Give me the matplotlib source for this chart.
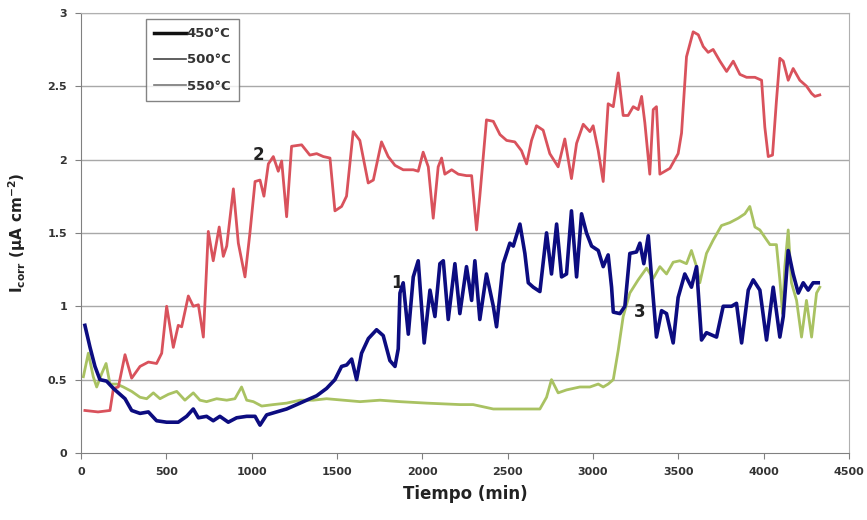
# -*- coding: utf-8 -*-
# Icorr vs time for the three treatment temperatures

import matplotlib
matplotlib.use('Agg')
import matplotlib.pyplot as plt
from matplotlib.lines import Line2D

# 450 C series (time in min, Icorr in uA/cm2)
t_450 = [23, 53, 82, 111, 150, 190, 219, 258, 297, 346, 395, 443, 502, 570, 619, 658, 688,
         736, 775, 814, 863, 912, 971, 1020, 1049, 1088, 1146, 1205, 1264, 1322, 1381, 1439,
         1488, 1527, 1557, 1586, 1615, 1644, 1684, 1732, 1771, 1810, 1840, 1859, 1869, 1888,
         1918, 1947, 1976, 2011, 2045, 2074, 2103, 2123, 2152, 2191, 2220, 2259, 2289, 2308,
         2337, 2376, 2416, 2435, 2474, 2513, 2533, 2572, 2601, 2621, 2650, 2689, 2728, 2757,
         2787, 2816, 2845, 2874, 2904, 2933, 2962, 2992, 3031, 3060, 3089, 3109, 3119, 3158,
         3187, 3216, 3255, 3275, 3298, 3324, 3343, 3372, 3402, 3431, 3470, 3499, 3538, 3577,
         3607, 3636, 3665, 3724, 3763, 3812, 3841, 3871, 3910, 3939, 3978, 4017, 4056, 4095,
         4115, 4144, 4173, 4203, 4232, 4261, 4290, 4320]
i_450 = [0.87, 0.72, 0.59, 0.50, 0.49, 0.44, 0.41, 0.37, 0.29, 0.27, 0.28, 0.22, 0.21, 0.21,
         0.25, 0.30, 0.24, 0.25, 0.22, 0.25, 0.21, 0.24, 0.25, 0.25, 0.19, 0.26, 0.28, 0.30,
         0.33, 0.36, 0.39, 0.44, 0.50, 0.59, 0.60, 0.64, 0.50, 0.68, 0.78, 0.84, 0.80, 0.63,
         0.59, 0.71, 1.09, 1.16, 0.81, 1.20, 1.31, 0.75, 1.11, 0.93, 1.29, 1.31, 0.91, 1.29,
         0.95, 1.27, 1.04, 1.31, 0.91, 1.22, 1.00, 0.86, 1.29, 1.43, 1.41, 1.56, 1.36, 1.16,
         1.13, 1.10, 1.50, 1.22, 1.56, 1.20, 1.22, 1.65, 1.20, 1.63, 1.50, 1.41, 1.38, 1.27,
         1.35, 1.13, 0.96, 0.95, 1.00, 1.36, 1.37, 1.43, 1.29, 1.48, 1.20, 0.79, 0.97, 0.95,
         0.75, 1.06, 1.22, 1.13, 1.27, 0.77, 0.82, 0.79, 1.00, 1.00, 1.02, 0.75, 1.11, 1.18,
         1.11, 0.77, 1.13, 0.79, 0.93, 1.38, 1.22, 1.09, 1.16, 1.11, 1.16, 1.16]

# 500 C series
t_500 = [23, 100, 170, 190, 219, 258, 297, 346, 395, 443, 473, 502, 541, 570, 590, 629, 658,
         688, 717, 746, 775, 810, 834, 854, 893, 922, 961, 990, 1020, 1049, 1072, 1098, 1127,
         1156, 1176, 1205, 1234, 1293, 1341, 1381, 1420, 1459, 1488, 1527, 1556, 1595, 1634,
         1683, 1713, 1761, 1800, 1840, 1888, 1947, 1976, 2005, 2035, 2064, 2093, 2113, 2132,
         2172, 2211, 2259, 2289, 2318, 2337, 2376, 2416, 2455, 2494, 2542, 2581, 2611, 2640,
         2669, 2708, 2747, 2796, 2835, 2874, 2904, 2943, 2982, 3001, 3031, 3060, 3089, 3119,
         3148, 3177, 3206, 3236, 3265, 3285, 3304, 3333, 3353, 3372, 3392, 3451, 3499, 3519,
         3548, 3587, 3617, 3646, 3675, 3704, 3744, 3783, 3822, 3861, 3900, 3949, 3988, 4007,
         4027, 4052, 4075, 4095, 4115, 4144, 4173, 4212, 4251, 4281, 4300, 4329]
i_500 = [0.29, 0.28, 0.29, 0.44, 0.45, 0.67, 0.51, 0.59, 0.62, 0.61, 0.68, 1.00, 0.72, 0.87,
         0.86, 1.07, 1.00, 1.01, 0.79, 1.51, 1.31, 1.54, 1.34, 1.41, 1.80, 1.43, 1.20, 1.50,
         1.85, 1.86, 1.75, 1.97, 2.02, 1.92, 1.99, 1.61, 2.09, 2.10, 2.03, 2.04, 2.02, 2.01,
         1.65, 1.68, 1.75, 2.19, 2.13, 1.84, 1.86, 2.12, 2.02, 1.96, 1.93, 1.93, 1.92, 2.05,
         1.95, 1.60, 1.95, 2.01, 1.90, 1.93, 1.90, 1.89, 1.89, 1.52, 1.75, 2.27, 2.26, 2.17,
         2.13, 2.12, 2.06, 1.97, 2.13, 2.23, 2.20, 2.04, 1.95, 2.14, 1.87, 2.11, 2.24, 2.19,
         2.23, 2.06, 1.85, 2.38, 2.36, 2.59, 2.30, 2.30, 2.36, 2.34, 2.43, 2.25, 1.90, 2.34,
         2.36, 1.90, 1.94, 2.04, 2.18, 2.70, 2.87, 2.85, 2.77, 2.73, 2.75, 2.67, 2.60, 2.67,
         2.58, 2.56, 2.56, 2.54, 2.22, 2.02, 2.03, 2.40, 2.69, 2.67, 2.54, 2.62, 2.54, 2.50,
         2.45, 2.43, 2.44]

# 550 C series
t_550 = [14, 43, 72, 92, 121, 147, 170, 209, 248, 297, 346, 385, 424, 463, 512, 561, 609,
         658, 697, 736, 795, 854, 902, 941, 971, 1010, 1059, 1127, 1205, 1283, 1361, 1439,
         1537, 1635, 1752, 1869, 2025, 2221, 2298, 2416, 2552, 2689, 2728, 2757, 2796, 2845,
         2923, 2982, 3031, 3060, 3089, 3119, 3148, 3177, 3216, 3265, 3314, 3353, 3392, 3431,
         3470, 3509, 3548, 3577, 3607, 3626, 3665, 3704, 3753, 3802, 3851, 3890, 3919, 3949,
         3978, 4007, 4037, 4075, 4095, 4111, 4124, 4144, 4163, 4193, 4222, 4251, 4281, 4310,
         4329]
i_550 = [0.52, 0.68, 0.52, 0.45, 0.54, 0.61, 0.47, 0.47, 0.45, 0.42, 0.38, 0.37, 0.41, 0.37,
         0.40, 0.42, 0.36, 0.41, 0.36, 0.35, 0.37, 0.36, 0.37, 0.45, 0.36, 0.35, 0.32, 0.33,
         0.34, 0.36, 0.36, 0.37, 0.36, 0.35, 0.36, 0.35, 0.34, 0.33, 0.33, 0.30, 0.30, 0.30,
         0.38, 0.50, 0.41, 0.43, 0.45, 0.45, 0.47, 0.45, 0.47, 0.50, 0.70, 0.93, 1.09, 1.18,
         1.26, 1.19, 1.27, 1.22, 1.30, 1.31, 1.29, 1.38, 1.27, 1.16, 1.36, 1.45, 1.55, 1.57,
         1.60, 1.63, 1.68, 1.54, 1.52, 1.47, 1.42, 1.42, 1.18, 0.95, 1.27, 1.52, 1.16, 1.04,
         0.79, 1.04, 0.79, 1.09, 1.13]

series_names = ['450°C', '500°C', '550°C']
line_colors = ['#0c0c80', '#d9525c', '#a9c262']

x_ticks = [0, 500, 1000, 1500, 2000, 2500, 3000, 3500, 4000, 4500]
y_ticks = [0, 0.5, 1, 1.5, 2, 2.5, 3]

fig = plt.figure(figsize=(8.67, 5.2), dpi=100)
ax = fig.add_axes([0.0934, 0.1288, 0.8858, 0.8467])

for v in y_ticks[1:]:
    ax.axhline(v, color='#a8a8a8', linewidth=1.0, zorder=0)

ax.plot(t_550, i_550, color=line_colors[2], linewidth=2.0, zorder=2)
ax.plot(t_500, i_500, color=line_colors[1], linewidth=2.0, zorder=3)
ax.plot(t_450, i_450, color=line_colors[0], linewidth=2.6, zorder=4)

# curve numbers
ax.text(1037, 2.03, '2', fontsize=12, fontweight='bold', color='#222222', ha='center', va='center')
ax.text(1851, 1.16, '1', fontsize=12, fontweight='bold', color='#222222', ha='center', va='center')
ax.text(3275, 0.96, '3', fontsize=12, fontweight='bold', color='#222222', ha='center', va='center')

ax.set_xlim(0, 4500)
ax.set_ylim(0, 3)
ax.set_xticks(x_ticks)
ax.set_yticks(y_ticks)
ax.set_yticklabels(['0', '0.5', '1', '1.5', '2', '2.5', '3'])

for s in ax.spines.values():
    s.set_color('#b0b0b0')
ax.spines['left'].set_color('#808080')
ax.spines['bottom'].set_color('#808080')
ax.tick_params(direction='out', length=4, color='#808080', labelsize=8, pad=6)
for lab in ax.get_xticklabels() + ax.get_yticklabels():
    lab.set_fontweight('bold')
    lab.set_color('#333333')

ax.set_xlabel('Tiempo (min)', fontsize=12, fontweight='bold', color='#222222', labelpad=6)
ax.set_ylabel(r'I$_{\mathbf{corr}}$ ($\mathbf{\mu}$A cm$^{\mathbf{-2}}$)', fontsize=11,
              fontweight='bold', color='#222222', labelpad=14)

# legend drawn with plain dark strokes
handles = [Line2D([], [], color='#111111', linewidth=2.5),
           Line2D([], [], color='#444444', linewidth=1.2),
           Line2D([], [], color='#777777', linewidth=1.2)]
leg = ax.legend(handles, series_names, loc='upper left', bbox_to_anchor=(0.076, 1.0),
                frameon=True, fancybox=False, handlelength=2.4, handletextpad=0.1,
                borderpad=0.6, labelspacing=1.0, prop={'size': 9.5, 'weight': 'bold'})
leg.get_frame().set_edgecolor('#666666')
leg.get_frame().set_linewidth(1.0)
for t in leg.get_texts():
    t.set_color('#333333')

plt.savefig('out.png', dpi=100)
